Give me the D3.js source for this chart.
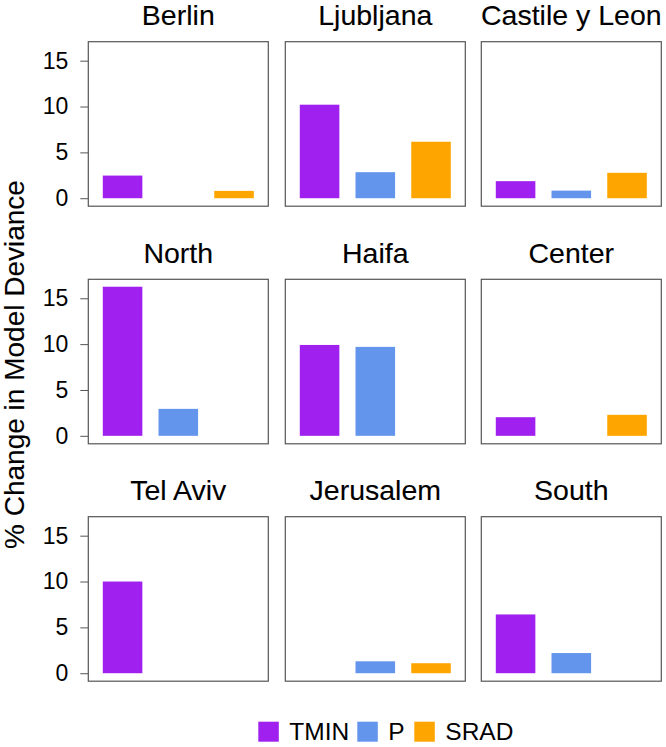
<!DOCTYPE html>
<html>
<head>
<meta charset="utf-8">
<script src="https://cdn.jsdelivr.net/npm/d3@7"></script>
<style>
  body { margin: 0; background: #fff; }
  svg { display: block; font-family: "Liberation Sans", Arial, sans-serif; }
</style>
</head>
<body>
<svg id="chart" width="666" height="747"></svg>
<script>
// ---- data ----
const regions = ["Berlin", "Ljubljana", "Castile y Leon", "North", "Haifa", "Center", "Tel Aviv", "Jerusalem", "South"];
const variables = ["TMIN", "P", "SRAD"];
const tminValues = [2.47, 10.2, 1.86, 16.26, 9.91, 2.03, 10.0, 0, 6.41];
const pValues    = [0, 2.84, 0.83, 2.94, 9.7, 0, 0, 1.3, 2.2];
const sradValues = [0.8, 6.16, 2.77, 0, 0, 2.29, 0, 1.09, 0];
const yTicks = [0, 5, 10, 15];
const colors = ["#A020F0", "#6495ED", "#FFA500"];
const yLabel = "% Change in Model Deviance";

// ---- layout ----
const svg = d3.select("#chart");
const panelW = 180, panelH = 164.5;
const colLefts = [88.3, 285.3, 481.3];
const rowTops = [41.7, 279.3, 516.7];

const x = d3.scaleBand().domain(variables).range([0, panelW]).paddingInner(0.29).paddingOuter(0.26);
const y = d3.scaleLinear().domain([-0.87, 17.07]).range([panelH, 0]);
const color = d3.scaleOrdinal().domain(variables).range(colors);

const series = [tminValues, pValues, sradValues];

regions.forEach((name, i) => {
  const r = Math.floor(i / 3), c = i % 3;
  const g = svg.append("g").attr("transform", `translate(${colLefts[c]},${rowTops[r]})`);
  const data = variables.map((v, k) => ({ v, val: series[k][i] })).filter(d => d.val > 0);

  g.selectAll("rect.bar").data(data).join("rect")
    .attr("class", "bar")
    .attr("x", d => x(d.v))
    .attr("width", x.bandwidth())
    .attr("y", d => y(d.val))
    .attr("height", d => y(0) - y(d.val))
    .attr("fill", d => color(d.v));

  g.append("rect")
    .attr("x", 0).attr("y", 0).attr("width", panelW).attr("height", panelH)
    .attr("fill", "none").attr("stroke", "#555").attr("stroke-width", 1.2);

  g.append("text")
    .attr("x", panelW / 2).attr("y", -16.5)
    .attr("text-anchor", "middle")
    .attr("font-size", 28.5).attr("fill", "#000")
    .attr("stroke", "#000").attr("stroke-width", 0.1)
    .text(name);

  if (c === 0) {
    const ax = g.append("g").attr("transform", "translate(-8,0)")
      .call(d3.axisLeft(y).tickValues(yTicks).tickSize(8).tickPadding(12));
    ax.select(".domain").remove();
    ax.selectAll(".tick line").attr("stroke", "#555").attr("transform", "translate(8,0)").attr("x2", -8);
    ax.selectAll(".tick text").attr("font-size", 23).attr("font-family", "Liberation Sans, Arial, sans-serif")
      .attr("fill", "#000").attr("x", -12);
  }
});

// y axis label
svg.append("text")
  .attr("transform", "translate(24,364.5) rotate(-90)")
  .attr("text-anchor", "middle")
  .attr("font-size", 28).attr("fill", "#000")
  .attr("stroke", "#000").attr("stroke-width", 0.1)
  .text(yLabel);

// legend
const legendX = [258.3, 357.3, 414.3];
const legend = svg.append("g");
variables.forEach((v, k) => {
  legend.append("rect")
    .attr("x", legendX[k]).attr("y", 721.7).attr("width", 20.5).attr("height", 20)
    .attr("fill", color(v));
  legend.append("text")
    .attr("x", legendX[k] + 31).attr("y", 740)
    .attr("font-size", 24.5).attr("fill", "#000")
    .text(v);
});
</script>
</body>
</html>
